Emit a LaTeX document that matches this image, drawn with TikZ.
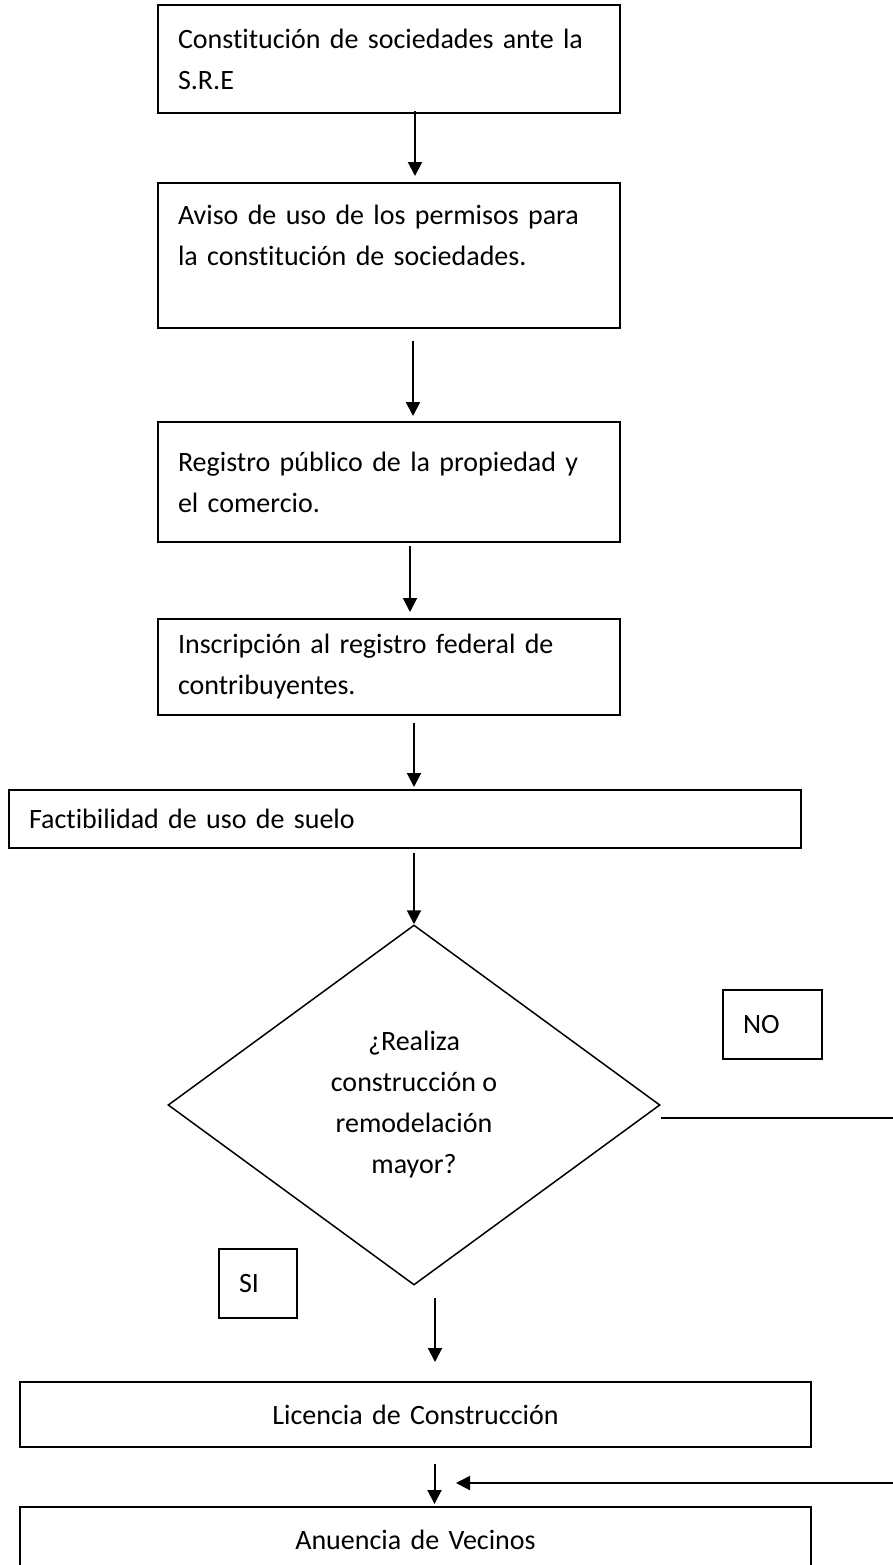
\documentclass[tikz,border=0pt]{standalone}
\usepackage{fontspec}
\setmainfont{Carlito}[Ligatures=NoCommon]
\usepackage{tikz}
\usetikzlibrary{shapes.geometric,arrows.meta,positioning,calc}
\tikzstyle{block} = [draw, rectangle, line width=1pt,
    inner xsep=10pt, inner ysep=0pt, align=left]
\tikzstyle{decision} = [draw, diamond, line width=0.75pt, inner sep=0pt,
    align=center, minimum width=246pt, minimum height=180pt]
\tikzstyle{tag} = [draw, rectangle, line width=0.9pt, inner xsep=10pt,
    minimum height=34.5pt, align=left]
\tikzstyle{coord} = [coordinate]
\tikzstyle{connector} = [->, line width=1pt]

\begin{document}
\begin{tikzpicture}[auto, >={Triangle[length=7pt,width=7pt]}, x=0.5pt, y=-0.5pt,
    font=\fontsize{14pt}{20.5pt}\selectfont]
    \useasboundingbox (0,0) rectangle (893,1565);

    \node (constitucion) [block, text width=211pt, minimum height=54pt] at (389,59) {Constitución de sociedades ante la\\S.R.E};
    \node (aviso) [block, text width=211pt, minimum height=72.5pt] at (389,255.5) {Aviso de uso de los permisos para\\la constitución de sociedades.\\\mbox{}};
    \node (registro) [block, text width=211pt, minimum height=60pt] at (389,482) {Registro público de la propiedad y\\el comercio.};
    \node (rfc) [block, text width=211pt, minimum height=48pt] at (389,667) {Inscripción al registro federal de\\contribuyentes.};
    \node (suelo) [block, text width=376pt, minimum height=29pt] at (405,819) {Factibilidad de uso de suelo};
    \node (pregunta) [decision] at (414,1105) {¿Realiza\\construcción o\\remodelación\\mayor?};
    \node (no) [tag, text width=29.5pt] at (772.5,1024.5) {NO};
    \node (si) [tag, text width=19pt] at (258,1283.5) {SI};
    \node (licencia) [block, align=center, text width=375.5pt, minimum height=32.5pt] at (415.5,1414.5) {Licencia de Construcción};
    \node (anuencia) [block, align=center, text width=375.5pt, minimum height=32.5pt] at (415.5,1539.5) {Anuencia de Vecinos};

    % salida del NO, vuelve por fuera de la hoja
    \node (noout) [coord] at (905,1118) {};
    \node (noin) [coord] at (905,1483) {};
    \node (vecinos) [coord] at (456,1483) {};

    \draw [connector, shorten <=-1.5pt, shorten >=3pt] ($(constitucion.south)+(26,0)$) -- ($(aviso.north)+(26,0)$);
    \draw [connector, shorten <=6pt, shorten >=2.5pt] ($(aviso.south)+(24,0)$) -- ($(registro.north)+(24,0)$);
    \draw [connector, shorten <=1.5pt, shorten >=3pt] ($(registro.south)+(21,0)$) -- ($(rfc.north)+(21,0)$);
    \draw [connector, shorten <=3.5pt, shorten >=1pt] ($(rfc.south)+(25,0)$) -- ($(suelo.north)+(9,0)$);
    \draw [connector, shorten <=2pt] ($(suelo.south)+(9,0)$) -- (pregunta.north);
    \draw [connector, shorten <=6pt, shorten >=9.5pt] ($(pregunta.south)+(21,0)$) -- ($(licencia.north)+(19.5,0)$);
    \draw [connector, shorten <=8pt, shorten >=1pt] ($(licencia.south)+(19,0)$) -- ($(anuencia.north)+(19,0)$);
    \draw [connector] ([yshift=-6.5pt]pregunta.east) -- (noout) -- (noin) -- (vecinos);
\end{tikzpicture}
\end{document}
